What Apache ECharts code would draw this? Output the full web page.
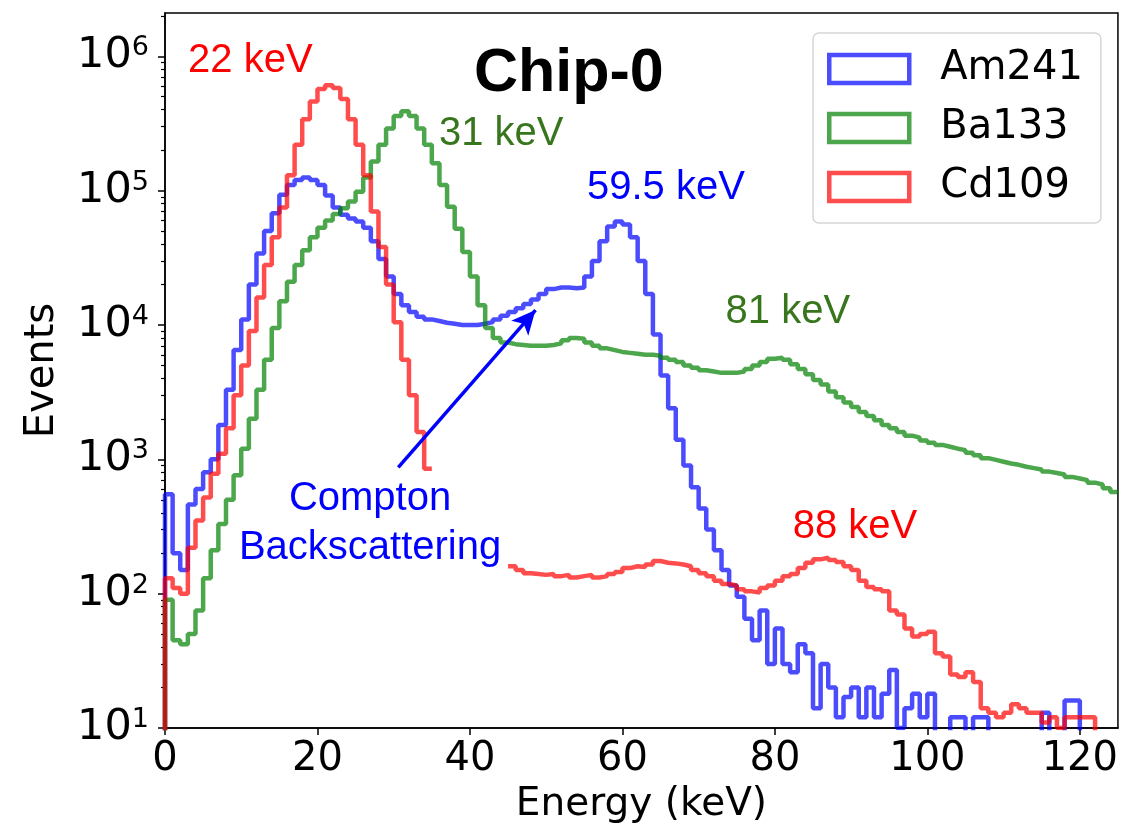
<!DOCTYPE html>
<html>
<head>
<meta charset="utf-8">
<script src="https://cdn.jsdelivr.net/npm/echarts@6/dist/echarts.min.js"></script>
<style>
html, body { margin: 0; padding: 0; background: #fff; }
#container { width: 1121px; height: 836px; }
</style>
</head>
<body>
<div id="container"></div>
<script>
// histogram bins, 1 keV wide, starting at 0 keV; null = not drawn, 1 = empty bin (below axis)
var binWidth = 1;
var am241 = [550, 200, 150, 460, 600, 800, 1000, 1800, 3300, 6500,
    11000, 20000, 34000, 50000, 68000, 93000, 110000, 120000, 125000, 120000,
    110000, 92000, 75000, 66000, 62000, 59000, 53000, 42000, 31000, 23000,
    17000, 14000, 12500, 11500, 11000, 10700, 10400, 10200, 10000, 10000,
    10000, 10200, 10500, 11000, 11700, 12500, 13300, 14300, 15500, 17000,
    18500, 19000, 19000, 18800, 19000, 23000, 30000, 42000, 54000, 59000,
    56000, 45000, 30000, 17000, 8500, 4200, 2400, 1400, 900, 620,
    430, 300, 210, 150, 115, 95, 65, 45, 75, 30,
    55, 30, 26, 42, 36, 14, 30, 20, 12, 17,
    20, 12, 20, 12, 18, 27, 10, 14, 18, 12,
    18, 1, 1, 12, 12, 1, 12, 12, 1, 1,
    1, 1, 1, 1, 1, 13, 1, 1, 16, 16,
    1, 1, 1, 1, 1];
var ba133 = [90, 45, 42, 50, 75, 130, 210, 330, 500, 760,
    1200, 2000, 3300, 5500, 9500, 15000, 21000, 28000, 36000, 45000,
    53000, 60000, 67000, 74000, 83000, 98000, 125000, 165000, 220000, 290000,
    360000, 390000, 360000, 290000, 220000, 160000, 110000, 76000, 52000, 35000,
    23000, 14000, 9500, 8000, 7400, 7200, 7100, 7000, 7000, 7000,
    7100, 7300, 7700, 8000, 7900, 7400, 7000, 6700, 6500, 6300,
    6200, 6100, 6000, 6000, 5900, 5700, 5500, 5300, 5000, 4800,
    4600, 4500, 4400, 4400, 4400, 4500, 4700, 5000, 5300, 5600,
    5700, 5500, 5100, 4700, 4300, 3900, 3600, 3200, 2900, 2650,
    2450, 2250, 2100, 1950, 1800, 1700, 1600, 1500, 1450, 1380,
    1330, 1280, 1240, 1200, 1170, 1120, 1070, 1020, 990, 960,
    930, 910, 880, 860, 840, 810, 790, 770, 740, 720,
    700, 670, 650, 610, 570];
var cd109 = [130, 110, 100, 220, 350, 520, 780, 1100, 1700, 3000,
    5000, 9000, 16000, 28000, 45000, 75000, 130000, 220000, 340000, 460000,
    570000, 610000, 580000, 480000, 340000, 220000, 130000, 70000, 38000, 20000,
    10500, 5500, 3000, 1600, 850, null, null, null, null, null,
    null, null, null, null, null, 160, 150, 142, 140, 138,
    140, 135, 138, 132, 135, 138, 132, 135, 140, 145,
    155, 160, 158, 165, 175, 170, 168, 165, 160, 150,
    142, 135, 125, 118, 115, 108, 104, 102, 110, 115,
    125, 135, 140, 155, 170, 180, 185, 178, 172, 160,
    150, 125, 112, 108, 104, 75, 70, 55, 48, 50,
    52, 36, 34, 25, 24, 26, 22, 14, 13, 12,
    13, 15, 14, 13, 13, 11, 12, 10, 12, 12,
    12, 12, 1, 1, 1];

var seriesNames = ['Am241', 'Ba133', 'Cd109'];
var seriesColors = ['#0000ff', '#008000', '#ff0000'];

var xTicks = [0, 20, 40, 60, 80, 100, 120];
var yTicks = [10, 100, 1000, 10000, 100000, 1000000];
var yMinorTicks = [20, 30, 40, 50, 60, 70, 80, 90,
    200, 300, 400, 500, 600, 700, 800, 900,
    2000, 3000, 4000, 5000, 6000, 7000, 8000, 9000,
    20000, 30000, 40000, 50000, 60000, 70000, 80000, 90000,
    200000, 300000, 400000, 500000, 600000, 700000, 800000, 900000,
    2000000];

// annotations: [text, energy (keV), events, colour]
var notes = [
    ['22 keV', 11.2, 920000, '#ff0000'],
    ['31 keV', 44.1, 263000, '#38761d'],
    ['59.5 keV', 65.7, 105000, '#0000ff'],
    ['81 keV', 81.7, 12600, '#38761d'],
    ['88 keV', 90.5, 316, '#ff0000'],
    ['Compton', 26.9, 505, '#0000ff'],
    ['Backscattering', 26.9, 218, '#0000ff']
];
var arrowFrom = [30.6, 870];
var arrowTo = [48.6, 12900];

function histPoints(vals) {
    var pts = [[0, 1]];
    for (var i = 0; i < vals.length; i++) {
        var v = vals[i];
        if (v === null) {
            pts.push([i * binWidth, null]);
            continue;
        }
        pts.push([i * binWidth, v]);
        pts.push([(i + 1) * binWidth, v]);
    }
    return pts;
}

var dom = document.getElementById('container');
var myChart = echarts.init(dom);

var lineSeries = [am241, ba133, cd109].map(function (vals, k) {
    var s = {
        name: seriesNames[k],
        type: 'line',
        data: histPoints(vals),
        symbol: 'none',
        clip: true,
        z: 2 + k,
        lineStyle: { color: seriesColors[k], width: 4.5, opacity: 0.7 },
        itemStyle: { color: seriesColors[k] }
    };
    if (k === 0) {
        s.markLine = {
            silent: true,
            symbol: ['none', 'arrow'],
            symbolSize: [17, 24],
            label: { show: false },
            lineStyle: { color: '#0000ff', width: 3.5, type: 'solid', opacity: 1 },
            data: [[{ coord: arrowFrom }, { coord: arrowTo }]]
        };
    }
    return s;
});

option = {
    backgroundColor: '#fff',
    animation: false,
    title: {
        text: 'Chip-0',
        left: 474,
        top: 44,
        padding: 0,
        textStyle: { fontFamily: 'Liberation Sans', fontWeight: 'bold', fontSize: 61, color: '#000' }
    },
    legend: {
        orient: 'vertical',
        left: 813,
        top: 33,
        padding: [16, 18, 16, 14],
        itemWidth: 80,
        itemHeight: 28,
        itemGap: 19,
        backgroundColor: 'rgba(255,255,255,0.8)',
        borderColor: '#d6d6d6',
        borderWidth: 1.5,
        borderRadius: 6,
        textStyle: { fontFamily: 'DejaVu Sans', fontSize: 40, color: '#000', padding: [0, 0, 0, 26] },
        data: seriesNames.map(function (n, k) {
            return {
                name: n,
                icon: 'rect',
                itemStyle: { color: '#fff', borderColor: seriesColors[k], borderWidth: 4.5, opacity: 0.7 }
            };
        })
    },
    grid: {
        left: 165,
        right: 3,
        top: 13,
        bottom: 108,
        show: true,
        borderColor: '#000',
        borderWidth: 1.5,
        backgroundColor: 'transparent'
    },
    xAxis: {
        type: 'value',
        min: 0,
        max: 125,
        interval: 20,
        name: 'Energy (keV)',
        nameLocation: 'middle',
        nameGap: 56,
        nameTextStyle: { fontFamily: 'DejaVu Sans', fontSize: 39, color: '#000' },
        splitLine: { show: false },
        axisLine: { lineStyle: { color: '#000', width: 1.5 } },
        axisTick: { length: 7, customValues: xTicks, lineStyle: { color: '#000', width: 1.5 } },
        axisLabel: { customValues: xTicks, margin: 12, fontFamily: 'DejaVu Sans', fontSize: 40, color: '#000' }
    },
    yAxis: [
        {
            type: 'log',
            logBase: 10,
            min: 10,
            max: 2100000,
            name: 'Events',
            nameLocation: 'middle',
            nameGap: 102,
            nameTextStyle: { fontFamily: 'DejaVu Sans', fontSize: 40, color: '#000' },
            splitLine: { show: false },
            axisLine: { lineStyle: { color: '#000', width: 1.5 } },
            axisTick: { length: 7, customValues: yTicks, lineStyle: { color: '#000', width: 1.5 } },
            axisLabel: {
                customValues: yTicks,
                margin: 16,
                formatter: function (v) {
                    return '{b|10}{s|' + Math.round(Math.log10(v)) + '}';
                },
                rich: {
                    b: { fontFamily: 'DejaVu Sans', fontSize: 43, color: '#000' },
                    s: { fontFamily: 'DejaVu Sans', fontSize: 27, color: '#000', verticalAlign: 'top' }
                }
            }
        },
        {
            // minor ticks only
            type: 'log',
            logBase: 10,
            min: 10,
            max: 2100000,
            position: 'left',
            splitLine: { show: false },
            axisLine: { show: false },
            axisLabel: { show: false },
            axisTick: { show: true, length: 4, customValues: yMinorTicks, lineStyle: { color: '#000', width: 1.2 } }
        }
    ],
    series: lineSeries.concat([
        {
            name: 'notes',
            type: 'scatter',
            silent: true,
            symbolSize: 0,
            z: 10,
            itemStyle: { opacity: 1 },
            emphasis: { disabled: true },
            data: notes.map(function (n) {
                return {
                    name: n[0],
                    value: [n[1], n[2]],
                    label: {
                        show: true,
                        position: 'inside',
                        formatter: n[0],
                        fontFamily: 'Liberation Sans',
                        fontSize: 40,
                        color: n[3],
                        opacity: 1
                    }
                };
            })
        }
    ])
};

if (option && typeof option === 'object') {
    myChart.setOption(option, true);
}
</script>
</body>
</html>
